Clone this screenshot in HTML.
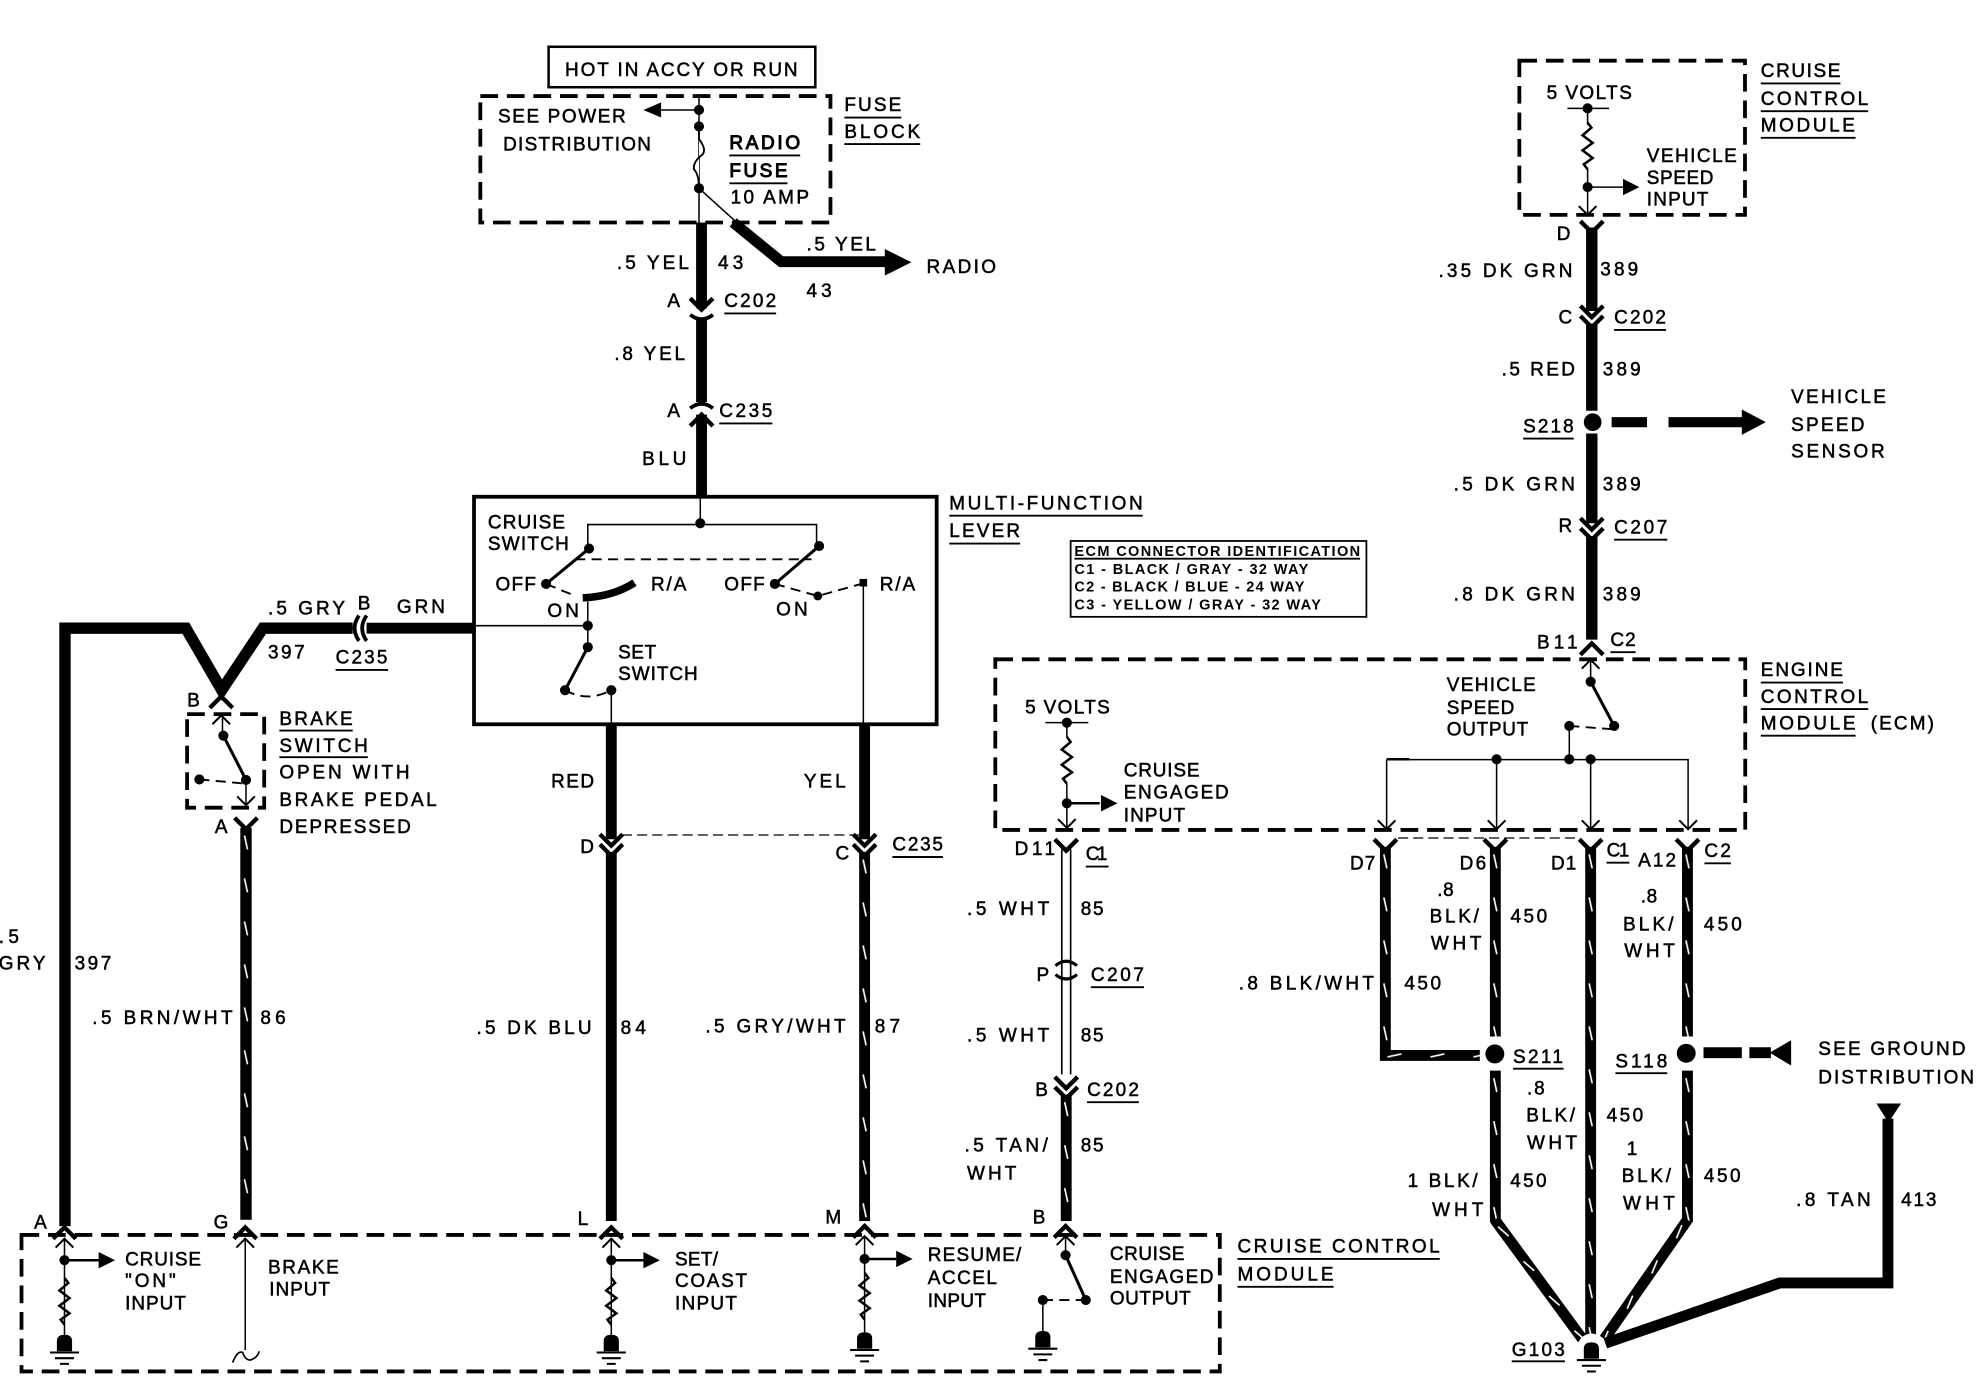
<!DOCTYPE html>
<html><head><meta charset="utf-8"><title>Cruise control wiring diagram</title>
<style>
html,body{margin:0;padding:0;background:#fff}
svg{display:block}
text{font-family:"Liberation Sans",sans-serif;font-size:15px;fill:#000;stroke:#000;stroke-width:.4}
text.s{font-size:11.5px;font-weight:bold;stroke:none}
text.b{stroke-width:.8}
.t{fill:none;stroke:#000;stroke-width:1.2}
.a{fill:none;stroke:#000;stroke-width:2}
.m{fill:none;stroke:#000;stroke-width:2.4}
.k{fill:none;stroke:#000;stroke-width:8.6}
.d{fill:none;stroke:#000;stroke-width:3;stroke-dasharray:14 7}
.u{fill:none;stroke:#000;stroke-width:1.5}
</style></head><body>
<svg xmlns="http://www.w3.org/2000/svg" width="1982" height="1376" viewBox="0 0 1568 1088.6">
<defs>
<pattern id="st" x="-10" y="0" width="20" height="34" patternUnits="userSpaceOnUse">
<rect width="20" height="34" fill="#000"/><path d="M8.8 6L11.2 17" stroke="#fff" stroke-width="1.3"/>
</pattern>
<path id="y" d="M-9-8L0 1L9-8" fill="none" stroke="#000" stroke-width="3.4"/>
<path id="v" d="M-7-7L0 0L7-7" fill="none" stroke="#000" stroke-width="1.6"/>
<path id="n" d="M-7 7L0 0L7 7" fill="none" stroke="#000" stroke-width="1.6"/>
<path id="r" d="M0 0L3 4L-4 10L4 16L-4 22L4 28L-3 33L0 37" fill="none" stroke="#000" stroke-width="2"/>
<g id="g"><path d="M-6 6V-2Q-6-7 0-7Q6-7 6-2V6Z" fill="#000"/><path d="M-11.500 7H11.500M-7.500 11.500H7.500M-3.500 16H3.500" stroke="#000" stroke-width="1.6"/></g>
<path id="aR" d="M0-6.500L13 0L0 6.500Z" fill="#000"/>
</defs>

<!-- top fuse block -->
<rect x="434" y="37" width="211" height="32" fill="none" stroke="#000" stroke-width="2"/>
<text x="447" y="60" textLength="184">HOT IN ACCY OR RUN</text>
<rect class="d" x="380" y="76" width="277" height="100"/>
<path class="t" d="M553 77V149M553 87H520M553 149V176M553 149L585 178"/>
<path d="M509 87L523 81V93Z" fill="#000"/>
<circle cx="553" cy="87" r="4"/><circle cx="553" cy="100" r="4"/><circle cx="553" cy="149" r="4"/>
<path d="M553 100V110Q559 118 556 122Q548 128 549 134Q553 138 553 149" fill="#fff" stroke="#000" stroke-width="1.5"/>
<text x="394" y="97" textLength="101">SEE POWER</text>
<text x="398" y="119" textLength="117">DISTRIBUTION</text>
<text class="b" x="577" y="118" textLength="56">RADIO</text>
<text class="b" x="577" y="140" textLength="46">FUSE</text>
<text x="578" y="161" textLength="62">10 AMP</text>
<text x="668" y="88" textLength="45">FUSE</text>
<text x="668" y="109" textLength="60">BLOCK</text>
<path class="u" d="M577 123H633M577 145H623M668 93H713M668 114H728M573 248H614M569 335H611M751 408H904M751 430H807"/>
<path class="k" d="M555 176V244M555 252V318M555 328V393M580 176L618 207H702"/>
<path d="M700 197L721 207.500L700 218Z" fill="#000"/>
<use href="#y" x="555" y="244"/>
<path d="M546 249Q555 256 564 249" fill="none" stroke="#000" stroke-width="3"/>
<path d="M546 323Q555 316 564 323" fill="none" stroke="#000" stroke-width="3"/>
<use href="#y" transform="translate(555 329) rotate(180)"/>
<text x="488" y="213" textLength="57">.5 YEL</text><text x="568" y="213" textLength="20">43</text>
<text x="638" y="198" textLength="55">.5 YEL</text><text x="638" y="235" textLength="20">43</text>
<text x="733" y="216" textLength="55">RADIO</text>
<text x="528" y="243">A</text><text x="573" y="243" textLength="41">C202</text>
<text x="486" y="285" textLength="56">.8 YEL</text>
<text x="528" y="330">A</text><text x="569" y="330" textLength="42">C235</text>
<text x="508" y="368" textLength="35">BLU</text>
<text x="751" y="403" textLength="153">MULTI-FUNCTION</text>
<text x="751" y="425" textLength="56">LEVER</text>

<!-- ECM id box -->
<rect x="847" y="428" width="234" height="60" fill="none" stroke="#000" stroke-width="1.4"/>
<text class="s" x="850" y="440" textLength="226">ECM CONNECTOR IDENTIFICATION</text>
<path class="u" d="M850 442H1076" stroke-width="1"/>
<text class="s" x="850" y="454" textLength="185">C1 - BLACK / GRAY - 32 WAY</text>
<text class="s" x="850" y="468" textLength="182">C2 - BLACK / BLUE - 24 WAY</text>
<text class="s" x="850" y="482" textLength="195">C3 - YELLOW / GRAY - 32 WAY</text>

<!-- multifunction lever -->
<rect x="375" y="393" width="366" height="180" fill="none" stroke="#000" stroke-width="3"/>
<path class="t" d="M554 393V414M465 434V415H646V432M375 495H465M465 476V512M483.600 546V573M683 461V573"/>
<circle cx="554" cy="414" r="4"/><circle cx="466" cy="434" r="4"/><circle cx="648" cy="432" r="4"/>
<circle cx="432" cy="462" r="4"/><circle cx="613" cy="462" r="4"/><circle cx="465" cy="495" r="4"/><circle cx="465" cy="512" r="4"/><circle cx="447" cy="546" r="4"/><circle cx="483.600" cy="546" r="4"/><circle cx="647" cy="471.500" r="3.500"/>
<rect x="680" y="458" width="6" height="6"/>
<path class="m" d="M466 434L432 462M648 432L613 462M465 512L447 546"/>
<path d="M455 442.500H642M432 462L454 471M613 462L647 471.500L683 461.500M447 546Q465 556 483.600 546" fill="none" stroke="#000" stroke-width="1.500" stroke-dasharray="8 5"/>
<path d="M461 473Q485 472 502 461" fill="none" stroke="#000" stroke-width="6"/>
<text x="386" y="418" textLength="61">CRUISE</text><text x="386" y="435" textLength="64">SWITCH</text>
<text x="392" y="467" textLength="32">OFF</text><text x="515" y="467" textLength="28">R/A</text>
<text x="573" y="467" textLength="32">OFF</text><text x="696" y="467" textLength="28">R/A</text>
<text x="433" y="488" textLength="25">ON</text><text x="614" y="487" textLength="25">ON</text>
<text x="489" y="521" textLength="30">SET</text><text x="489" y="538" textLength="63">SWITCH</text>

<!-- left wires -->
<path d="M51.400 970V497H147L175.400 546L208 497H279" fill="none" stroke="#000" stroke-width="9"/>
<path class="k" d="M290 497H375"/>
<path d="M284 487Q277 497 284 507M290 487Q283 497 290 507" fill="none" stroke="#000" stroke-width="3"/>
<text x="212" y="486" textLength="61">.5 GRY</text><text x="283" y="482">B</text><text x="314" y="485" textLength="38">GRN</text>
<text x="212" y="521" textLength="29">397</text><text x="265.500" y="525" textLength="41">C235</text>
<path class="u" d="M265.500 530H307"/>
<text x="-1" y="746" textLength="16">.5</text><text x="-1" y="767" textLength="37">GRY</text><text x="59" y="767" textLength="29">397</text>
<use href="#y" transform="translate(175 552) rotate(180)"/>
<text x="148" y="559" textLength="12">B</text>
<rect class="d" x="148" y="565" width="61" height="74" stroke-dasharray="11 6"/>
<use href="#n" x="175" y="566"/>
<path class="t" d="M176 566V582M194.600 617V636"/>
<circle cx="176.700" cy="582" r="4"/><circle cx="194.600" cy="617" r="4"/><circle cx="157.700" cy="616.600" r="4"/>
<path class="m" d="M176.700 582L194.600 617"/>
<path d="M157.700 616.600L194.600 620" fill="none" stroke="#000" stroke-width="1.500" stroke-dasharray="8 5"/>
<use href="#v" x="194.600" y="637"/>
<text x="221" y="573.600" textLength="58">BRAKE</text><text x="221" y="595" textLength="70">SWITCH</text>
<text x="221" y="616" textLength="103">OPEN WITH</text><text x="221" y="637.700" textLength="124.500">BRAKE PEDAL</text><text x="221" y="659" textLength="104">DEPRESSED</text>
<path class="u" d="M221 578H279M221 599H291"/>
<use href="#y" x="194.600" y="655"/>
<text x="170" y="659" textLength="12">A</text>
<rect transform="translate(194.600 655)" x="-4.500" width="9" height="310" fill="url(#st)"/>
<text x="73" y="810" textLength="111">.5 BRN/WHT</text><text x="206" y="810" textLength="20">86</text>

<!-- RED / YEL -->
<path class="k" d="M483.600 573V664M483.600 674V966"/>
<rect transform="translate(684 573)" x="-4.300" width="8.600" height="91" fill="#000"/>
<rect transform="translate(684 674)" x="-4.300" width="8.600" height="292" fill="url(#st)"/>
<use href="#y" x="483.600" y="668"/><use href="#y" x="483.600" y="676"/><use href="#y" x="684" y="668"/><use href="#y" x="684" y="676"/>
<path d="M492 660.600H680" fill="none" stroke="#000" stroke-width="1" stroke-dasharray="8 4"/>
<text x="436" y="623" textLength="34">RED</text><text x="636" y="623" textLength="33">YEL</text>
<text x="459" y="675">D</text><text x="661" y="680">C</text>
<text x="706" y="673" textLength="40">C235</text><path class="u" d="M706 678H746"/>
<text x="377" y="818" textLength="91">.5 DK BLU</text><text x="491" y="818" textLength="20">84</text>
<text x="558" y="817" textLength="111">.5 GRY/WHT</text><text x="692" y="817" textLength="20">87</text>

<!-- bottom module -->
<rect class="d" x="17" y="977" width="948" height="108"/>
<g>
<use href="#y" transform="translate(51 972) rotate(180)"/>
<use href="#y" transform="translate(194 972) rotate(180)"/>
<use href="#y" transform="translate(483.600 972) rotate(180)"/>
<use href="#y" transform="translate(684 971) rotate(180)"/>
<use href="#y" transform="translate(843 971) rotate(180)"/>
<use href="#n" x="51" y="980"/><use href="#n" x="194" y="980"/><use href="#n" x="483.600" y="980"/><use href="#n" x="684" y="978"/><use href="#n" x="843" y="978"/>
</g>
<text x="27" y="972" textLength="11">A</text><text x="169" y="972" textLength="12">G</text><text x="457" y="969">L</text><text x="653" y="968" textLength="14.500">M</text><text x="817" y="968" textLength="10">B</text>
<path class="t" d="M51 980V1056M194 980V1068M483.600 980V1056M684 978V1056M843 978V993M825 1028V1056"/>
<path class="a" d="M51 997H80M483.600 997H509M684 996H709"/>
<path d="M184 1078Q188 1068 192 1070Q194 1076 198 1076Q204 1074 205 1069" fill="none" stroke="#000" stroke-width="1.3"/>
<circle cx="51" cy="997" r="4"/><circle cx="483.600" cy="997" r="4"/><circle cx="684" cy="996" r="4"/><circle cx="843" cy="993" r="4"/><circle cx="859" cy="1028.500" r="4"/><circle cx="825" cy="1028.500" r="4"/>
<use href="#aR" x="78" y="997"/><use href="#aR" x="509" y="997"/><use href="#aR" x="709" y="996"/>
<use href="#r" x="51" y="1011" fill="none"/><use href="#r" x="483.600" y="1011"/><use href="#r" x="684" y="1007"/>
<use href="#g" x="51" y="1063"/><use href="#g" x="483.600" y="1063"/><use href="#g" x="684" y="1061"/><use href="#g" x="825" y="1060"/>
<path class="m" d="M843 993L859 1028.500"/>
<path d="M825 1028.500H859" fill="none" stroke="#000" stroke-width="1.500" stroke-dasharray="8 5"/>
<text x="99" y="1001" textLength="60">CRUISE</text><text x="99" y="1018" textLength="40">"ON"</text><text x="99" y="1036" textLength="48">INPUT</text>
<text x="212" y="1007.400" textLength="56">BRAKE</text><text x="213" y="1025" textLength="48">INPUT</text>
<text x="534" y="1001" textLength="34">SET/</text><text x="534" y="1018" textLength="57">COAST</text><text x="534" y="1036" textLength="49">INPUT</text>
<text x="734" y="997.700" textLength="74">RESUME/</text><text x="734" y="1016" textLength="54.700">ACCEL</text><text x="734" y="1034" textLength="46">INPUT</text>
<text x="878" y="997" textLength="59">CRUISE</text><text x="878" y="1015" textLength="82">ENGAGED</text><text x="878" y="1032" textLength="64">OUTPUT</text>
<text x="979" y="991" textLength="160">CRUISE CONTROL</text><text x="979" y="1013" textLength="76">MODULE</text>
<path class="u" d="M979 996H1139M979 1018H1055"/>

<!-- wire 85 -->
<path d="M840 672V850M847 672V850" fill="none" stroke="#000" stroke-width="1.300"/>
<use href="#y" x="843.500" y="672"/>
<path d="M835 764Q843.500 757 852 764M835 771Q843.500 778 852 771" fill="none" stroke="#000" stroke-width="2.500"/>
<rect transform="translate(843.500 866)" x="-4.300" width="8.600" height="100" fill="url(#st)"/>
<use href="#y" x="843.500" y="860"/><use href="#y" x="843.500" y="868"/>
<text x="802.700" y="676.400" textLength="32">D11</text><text x="859" y="680.300" textLength="17">C1</text><path class="u" d="M859 685.600H877"/>
<text x="765" y="724" textLength="65">.5 WHT</text><text x="855" y="724" textLength="18">85</text>
<text x="820" y="776">P</text><text x="863" y="776" textLength="42">C207</text><path class="u" d="M863 781H905"/>
<text x="765" y="824" textLength="65">.5 WHT</text><text x="855" y="824" textLength="18">85</text>
<text x="819" y="867">B</text><text x="860" y="867" textLength="41">C202</text><path class="u" d="M860 872H901"/>
<text x="763" y="911" textLength="66">.5 TAN/</text><text x="765" y="933" textLength="39">WHT</text><text x="855" y="911" textLength="18">85</text>

<!-- ECM -->
<rect class="d" x="787.400" y="521.600" width="593.300" height="135"/>
<path class="t" d="M827 571.700H861M844 571.700V583M844 620V655"/>
<path class="a" d="M844 635.500H870"/>
<circle cx="844" cy="571.700" r="4"/><circle cx="844" cy="635.500" r="4"/>
<use href="#r" x="844" y="583"/><use href="#aR" x="871" y="635.500"/><use href="#v" x="844" y="655"/>
<text x="811" y="564.300" textLength="67">5 VOLTS</text>
<text x="889" y="614.400" textLength="60">CRUISE</text><text x="889" y="631.600" textLength="83">ENGAGED</text><text x="889" y="650" textLength="48.500">INPUT</text>
<text x="1144.600" y="546.600" textLength="70.400">VEHICLE</text><text x="1144.600" y="565" textLength="53.400">SPEED</text><text x="1144.600" y="582" textLength="64.400">OUTPUT</text>
<use href="#n" x="1258.400" y="522"/>
<path class="t" d="M1258.400 522V539M1241.500 574V601M1097 601H1335.500V655M1097 601V655M1184 601V655M1258.400 601V655"/>
<path d="M1097 600.700H1115" stroke="#000" stroke-width="2"/>
<circle cx="1258.400" cy="539.300" r="4"/><circle cx="1277" cy="574.300" r="4"/><circle cx="1241.500" cy="574.300" r="4"/>
<circle cx="1184" cy="600.700" r="4"/><circle cx="1241.500" cy="600.700" r="4"/><circle cx="1258.400" cy="600.700" r="4"/>
<path class="m" d="M1258.400 539.300L1277 574.300"/>
<path d="M1241.500 574.300L1277 577" fill="none" stroke="#000" stroke-width="1.500" stroke-dasharray="8 5"/>
<use href="#v" x="1097" y="656"/><use href="#v" x="1184" y="656"/><use href="#v" x="1258.400" y="656"/><use href="#v" x="1335.500" y="656"/>
<text x="1393" y="535" textLength="65">ENGINE</text><text x="1393" y="556" textLength="85">CONTROL</text><text x="1393" y="577" textLength="75">MODULE</text><text x="1480" y="577" textLength="50">(ECM)</text>
<path class="u" d="M1393 540H1458M1393 561H1478M1393 582H1468"/>

<!-- lower right wires -->
<path d="M1106 663H1247" fill="none" stroke="#000" stroke-width="1" stroke-dasharray="8 4"/>
<use href="#y" x="1096" y="672"/><use href="#y" x="1183" y="672"/><use href="#y" x="1258.400" y="672"/><use href="#y" x="1335" y="672"/>
<rect transform="translate(1096 670)" x="-4.300" width="8.600" height="169" fill="url(#st)"/>
<rect transform="translate(1091.700 835) rotate(-90)" x="-4.300" width="8.600" height="79" fill="url(#st)"/>
<rect transform="translate(1183 670)" x="-4.300" width="8.600" height="150" fill="url(#st)"/>
<rect transform="translate(1183 847)" x="-4.300" width="8.600" height="120" fill="url(#st)"/>
<rect transform="translate(1182.600 965) rotate(-36.300)" x="-4.300" width="8.600" height="117" fill="url(#st)"/>
<rect transform="translate(1258.400 670)" x="-4.300" width="8.600" height="390" fill="url(#st)"/>
<rect transform="translate(1335 670)" x="-4.300" width="8.600" height="150" fill="url(#st)"/>
<rect transform="translate(1335 847)" x="-4.300" width="8.600" height="120" fill="url(#st)"/>
<rect transform="translate(1335 965) rotate(34.900)" x="-4.300" width="8.600" height="115" fill="url(#st)"/>
<path class="k" d="M1493.600 885V1015H1408L1270 1062.700"/>
<path d="M1484.500 873H1504L1494 888Z" fill="#000"/>
<circle cx="1259" cy="1066" r="11" fill="#fff"/>
<use href="#g" x="1259" y="1069"/>
<circle cx="1182.600" cy="833.800" r="7.500"/><circle cx="1334" cy="833.300" r="7.500"/>
<path class="k" d="M1347.700 832.800H1378M1384 832.800H1401"/>
<path d="M1400 832.800L1417 823V843Z" fill="#000"/>
<text x="1068" y="687.700" textLength="20">D7</text><text x="1154.700" y="687.700" textLength="21">D6</text><text x="1227" y="687.700" textLength="20">D1</text>
<text x="1271" y="677.700" textLength="18">C1</text><text x="1296" y="685.600" textLength="30">A12</text><text x="1348.400" y="678" textLength="21">C2</text>
<path class="u" d="M1271 682.500H1289M1348.400 683H1369.400"/>
<text x="1137" y="709" textLength="13">.8</text><text x="1131" y="730" textLength="39">BLK/</text><text x="1132" y="751" textLength="40">WHT</text><text x="1195" y="730" textLength="29">450</text>
<text x="1298" y="714" textLength="13">.8</text><text x="1284" y="736" textLength="40">BLK/</text><text x="1285" y="757" textLength="40">WHT</text><text x="1348" y="736" textLength="30">450</text>
<text x="980" y="783" textLength="107">.8 BLK/WHT</text><text x="1111" y="783" textLength="29">450</text>
<text x="1197" y="841" textLength="39.500">S211</text><text x="1278" y="844.600" textLength="41">S118</text>
<path class="u" d="M1197 845.500H1237M1278 849H1319M1196 1077H1238"/>
<text x="1208" y="866" textLength="14">.8</text><text x="1207.500" y="887.400" textLength="38.500">BLK/</text><text x="1208" y="909" textLength="39.700">WHT</text><text x="1271" y="887.400" textLength="29">450</text>
<text x="1287" y="913.700">1</text><text x="1283" y="935" textLength="39">BLK/</text><text x="1284" y="956.700" textLength="41">WHT</text><text x="1348" y="935" textLength="29">450</text>
<text x="1113.600" y="939" textLength="55.400">1 BLK/</text><text x="1133" y="962" textLength="40.500">WHT</text><text x="1194.800" y="939" textLength="28.700">450</text>
<text x="1421" y="954" textLength="59">.8 TAN</text><text x="1504" y="954" textLength="28">413</text>
<text x="1438.500" y="834.600" textLength="116.500">SEE GROUND</text><text x="1438.500" y="857" textLength="123.200">DISTRIBUTION</text>
<text x="1196" y="1072.700" textLength="42">G103</text>

<!-- top right -->
<rect class="d" x="1202" y="48" width="178.500" height="122"/>
<path class="t" d="M1240 85.700H1273M1256 85.700V99M1256 133V170M1256 148H1284"/>
<circle cx="1256" cy="85.700" r="4"/><circle cx="1256" cy="148" r="4"/>
<use href="#r" x="1256" y="97"/><use href="#aR" x="1284" y="148"/><use href="#v" x="1256" y="170"/>
<text x="1223.600" y="78.500" textLength="67.400">5 VOLTS</text>
<text x="1302.800" y="128" textLength="71.200">VEHICLE</text><text x="1302.800" y="145.500" textLength="52.700">SPEED</text><text x="1302.800" y="162.700" textLength="48.700">INPUT</text>
<text x="1393" y="61" textLength="63">CRUISE</text><text x="1393" y="83" textLength="85">CONTROL</text><text x="1393" y="104" textLength="74.500">MODULE</text>
<path class="u" d="M1393 66H1456M1393 88H1478M1393 109H1468"/>
<text x="1231.600" y="190">D</text>
<use href="#y" x="1259.300" y="183"/><use href="#y" x="1259.300" y="250"/><use href="#y" x="1259.300" y="258"/>
<use href="#y" x="1259.300" y="418"/><use href="#y" x="1259.300" y="426"/>
<use href="#y" transform="translate(1259.300 510) rotate(180)"/>
<path d="M1259.300 180V246M1259.300 256V325M1259.300 343V414M1259.300 424V506" fill="none" stroke="#000" stroke-width="9"/>
<circle cx="1260" cy="334" r="7"/>
<path d="M1275 334H1303M1320 334H1380" fill="none" stroke="#000" stroke-width="8"/>
<path d="M1378 324L1397 334L1378 344Z" fill="#000"/>
<text x="1138" y="219" textLength="106">.35 DK GRN</text><text x="1266" y="218" textLength="30">389</text>
<text x="1233" y="256">C</text><text x="1277" y="256" textLength="41">C202</text>
<text x="1188" y="297" textLength="58">.5 RED</text><text x="1268" y="297" textLength="30">389</text>
<text x="1205" y="342" textLength="40">S218</text>
<text x="1417" y="319" textLength="75">VEHICLE</text><text x="1417" y="341" textLength="58">SPEED</text><text x="1417" y="362" textLength="74">SENSOR</text>
<text x="1150" y="388" textLength="96">.5 DK GRN</text><text x="1268" y="388" textLength="30">389</text>
<text x="1233" y="421">R</text><text x="1277" y="422" textLength="42">C207</text>
<text x="1150" y="475" textLength="96">.8 DK GRN</text><text x="1268" y="475" textLength="30">389</text>
<text x="1216" y="513" textLength="32">B11</text><text x="1274" y="511" textLength="20">C2</text>
<path class="u" d="M1277 261H1318M1205 347H1245M1277 427H1319M1274 516H1294"/>
</svg>
</body></html>
